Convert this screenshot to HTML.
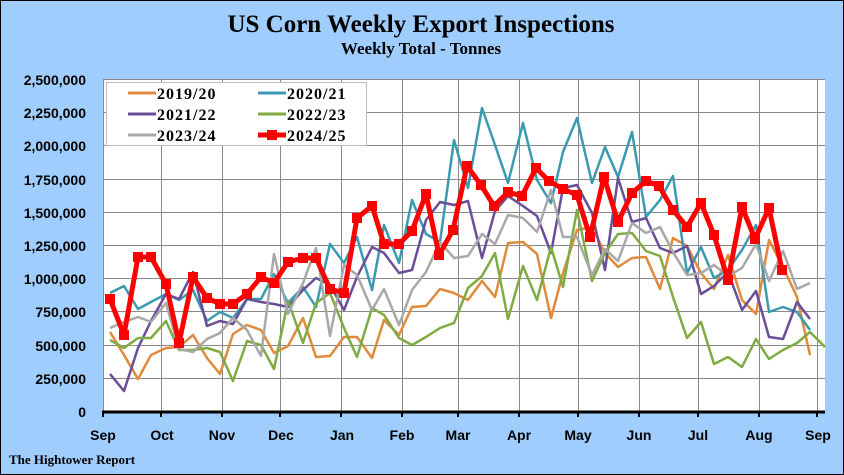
<!DOCTYPE html>
<html><head><meta charset="utf-8"><style>
html,body{margin:0;padding:0;background:#9fcdfd}
svg{display:block}
.yl{font:bold 14px "Liberation Sans",sans-serif;fill:#000;text-anchor:end}
.xl{font:bold 14px "Liberation Sans",sans-serif;fill:#000;text-anchor:middle}
.lg{font-family:"Liberation Serif",serif;font-weight:bold;font-size:16px;letter-spacing:1px;fill:#000}
</style></head><body>
<svg width="844" height="475" xmlns="http://www.w3.org/2000/svg">
<rect x="0.5" y="0.5" width="843" height="474" fill="#9fcdfd" stroke="#000" stroke-width="1"/>
<text x="421" y="32" text-anchor="middle" style="font:bold 25px 'Liberation Serif',serif">US Corn Weekly Export Inspections</text>
<text x="421" y="54" text-anchor="middle" style="font:bold 17px 'Liberation Serif',serif">Weekly Total - Tonnes</text>
<rect x="103" y="79" width="722" height="333" fill="#fff"/>
<g stroke="#8a8a8a" stroke-width="1">
<line x1="103" y1="79.5" x2="825" y2="79.5"/><line x1="103" y1="112.5" x2="825" y2="112.5"/><line x1="103" y1="145.5" x2="825" y2="145.5"/><line x1="103" y1="179.5" x2="825" y2="179.5"/><line x1="103" y1="212.5" x2="825" y2="212.5"/><line x1="103" y1="245.5" x2="825" y2="245.5"/><line x1="103" y1="278.5" x2="825" y2="278.5"/><line x1="103" y1="311.5" x2="825" y2="311.5"/><line x1="103" y1="345.5" x2="825" y2="345.5"/><line x1="103" y1="378.5" x2="825" y2="378.5"/>
<line x1="103.5" y1="79" x2="103.5" y2="412"/><line x1="161.5" y1="79" x2="161.5" y2="412"/><line x1="222.5" y1="79" x2="222.5" y2="412"/><line x1="280.5" y1="79" x2="280.5" y2="412"/><line x1="341.5" y1="79" x2="341.5" y2="412"/><line x1="402.5" y1="79" x2="402.5" y2="412"/><line x1="458.5" y1="79" x2="458.5" y2="412"/><line x1="519.5" y1="79" x2="519.5" y2="412"/><line x1="578.5" y1="79" x2="578.5" y2="412"/><line x1="639.5" y1="79" x2="639.5" y2="412"/><line x1="698.5" y1="79" x2="698.5" y2="412"/><line x1="759.5" y1="79" x2="759.5" y2="412"/><line x1="817.5" y1="79" x2="817.5" y2="412"/>
</g>
<g fill="none" stroke-width="2.5" stroke-linejoin="round">
<polyline stroke="#e08a3c" points="110,332 124,355 138,379 151,355 166,348 179,347 193,335 207,358 220,374 233,334 247,325 261,330 274,353 288,346 303,318 316,357 330,356 344,337 357,337 372,358 384,320 399,335 412,307 426,306 440,289 454,293 468,300 482,281 495,297 508,243 523,242 537,254 551,318 563,273 577,230 592,227 605,253 618,267 632,258 646,257 660,289 673,238 687,246 701,273 714,289 728,255 742,300 756,314 769,240 783,267 797,297 810,355"/>
<polyline stroke="#3a9bb0" points="110,293 124,286 138,309 151,302 166,294 179,300 193,290 207,321 220,312 233,318 247,299 261,299 274,274 288,303 303,287 316,307 330,244 344,263 357,237 372,290 384,225 399,263 412,200 426,234 440,242 454,140 468,188 482,108 495,145 508,183 523,123 537,180 551,203 563,152 577,118 592,183 605,147 618,177 632,132 646,217 660,200 673,176 687,273 701,247 714,278 728,270 742,250 756,225 769,312 783,307 797,312 810,330"/>
<polyline stroke="#6b4e98" points="110,374 124,391 138,348 151,321 166,294 179,299 193,272 207,326 220,321 233,324 247,299 261,302 274,304 288,307 303,290 316,278 330,285 344,310 357,277 372,247 384,253 399,273 412,270 426,220 440,202 454,205 468,201 482,258 495,211 508,196 523,206 537,216 551,253 563,188 577,185 592,213 605,270 618,178 632,222 646,218 660,248 673,253 687,246 701,294 714,286 728,272 742,310 756,291 769,337 783,339 797,302 810,319"/>
<polyline stroke="#7fab42" points="110,340 124,348 138,338 151,338 166,321 179,350 193,350 207,348 220,352 233,381 247,341 261,345 274,369 288,301 303,343 316,303 330,293 344,328 357,357 372,308 384,315 399,338 412,345 426,337 440,328 454,323 468,288 482,276 495,253 508,319 523,266 537,300 551,247 563,287 577,210 592,281 605,253 618,234 632,233 646,251 660,256 673,297 687,338 701,322 714,364 728,357 742,367 756,339 769,359 783,350 797,343 810,332 825,347"/>
<polyline stroke="#a8a8a8" points="110,328 124,322 138,317 151,322 166,303 179,349 193,352 207,339 220,333 233,318 247,330 261,356 274,254 288,314 303,283 316,248 330,336 344,265 357,275 372,310 384,289 399,325 412,290 426,272 440,242 454,258 468,256 482,234 495,244 508,215 523,218 537,232 551,190 563,237 577,237 592,275 605,249 618,261 632,223 646,233 660,227 673,252 687,275 701,273 714,265 728,276 742,268 756,244 769,281 783,251 797,289 810,283"/>
</g>
<g>
<polyline fill="none" stroke="#ff0000" stroke-width="5" stroke-linejoin="round" points="110,299 124,335 138,257 151,257 166,284 179,343 193,277 207,298 220,304 233,304 247,294 261,277 274,283 288,262 303,258 316,258 330,289 344,293 357,218 372,206 384,244 399,244 412,231 426,194 439,255 453,230 467,166 481,185 494,206 508,192 522,196 536,168 549,181 563,189 577,195 590,237 604,177 618,222 632,193 646,181 659,186 673,210 687,227 701,203 714,235 728,280 742,207 755,239 769,208 782,270"/>
<g fill="#ff0000">
<rect x="105" y="294" width="10" height="10"/><rect x="119" y="330" width="10" height="10"/><rect x="133" y="252" width="10" height="10"/><rect x="146" y="252" width="10" height="10"/><rect x="161" y="279" width="10" height="10"/><rect x="174" y="338" width="10" height="10"/><rect x="188" y="272" width="10" height="10"/><rect x="202" y="293" width="10" height="10"/><rect x="215" y="299" width="10" height="10"/><rect x="228" y="299" width="10" height="10"/><rect x="242" y="289" width="10" height="10"/><rect x="256" y="272" width="10" height="10"/><rect x="269" y="278" width="10" height="10"/><rect x="283" y="257" width="10" height="10"/><rect x="298" y="253" width="10" height="10"/><rect x="311" y="253" width="10" height="10"/><rect x="325" y="284" width="10" height="10"/><rect x="339" y="288" width="10" height="10"/><rect x="352" y="213" width="10" height="10"/><rect x="367" y="201" width="10" height="10"/><rect x="379" y="239" width="10" height="10"/><rect x="394" y="239" width="10" height="10"/><rect x="407" y="226" width="10" height="10"/><rect x="421" y="189" width="10" height="10"/><rect x="434" y="250" width="10" height="10"/><rect x="448" y="225" width="10" height="10"/><rect x="462" y="161" width="10" height="10"/><rect x="476" y="180" width="10" height="10"/><rect x="489" y="201" width="10" height="10"/><rect x="503" y="187" width="10" height="10"/><rect x="517" y="191" width="10" height="10"/><rect x="531" y="163" width="10" height="10"/><rect x="544" y="176" width="10" height="10"/><rect x="558" y="184" width="10" height="10"/><rect x="572" y="190" width="10" height="10"/><rect x="585" y="232" width="10" height="10"/><rect x="599" y="172" width="10" height="10"/><rect x="613" y="217" width="10" height="10"/><rect x="627" y="188" width="10" height="10"/><rect x="641" y="176" width="10" height="10"/><rect x="654" y="181" width="10" height="10"/><rect x="668" y="205" width="10" height="10"/><rect x="682" y="222" width="10" height="10"/><rect x="696" y="198" width="10" height="10"/><rect x="709" y="230" width="10" height="10"/><rect x="723" y="275" width="10" height="10"/><rect x="737" y="202" width="10" height="10"/><rect x="750" y="234" width="10" height="10"/><rect x="764" y="203" width="10" height="10"/><rect x="777" y="265" width="10" height="10"/>
</g></g>
<rect x="106.5" y="82.5" width="260" height="63" fill="#fff" stroke="#bbb"/>
<g stroke-width="3">
<line x1="128" y1="93" x2="156" y2="93" stroke="#e08a3c"/><line x1="258" y1="93" x2="286" y2="93" stroke="#3a9bb0"/>
<line x1="128" y1="114" x2="156" y2="114" stroke="#6b4e98"/><line x1="258" y1="114" x2="286" y2="114" stroke="#7fab42"/>
<line x1="128" y1="135" x2="156" y2="135" stroke="#a8a8a8"/><line x1="258" y1="135" x2="286" y2="135" stroke="#ff0000" stroke-width="5"/>
</g>
<rect x="267" y="130" width="10" height="10" fill="#ff0000"/>
<text class="lg" x="157" y="99">2019/20</text><text class="lg" x="287" y="99">2020/21</text>
<text class="lg" x="157" y="120">2021/22</text><text class="lg" x="287" y="120">2022/23</text>
<text class="lg" x="157" y="141">2023/24</text><text class="lg" x="287" y="141">2024/25</text>
<line x1="102" y1="412" x2="825" y2="412" stroke="#000" stroke-width="3"/>
<g stroke="#000" stroke-width="2">
<line x1="103" y1="412" x2="103" y2="417"/><line x1="161" y1="412" x2="161" y2="417"/><line x1="222" y1="412" x2="222" y2="417"/><line x1="280" y1="412" x2="280" y2="417"/><line x1="341" y1="412" x2="341" y2="417"/><line x1="402" y1="412" x2="402" y2="417"/><line x1="458" y1="412" x2="458" y2="417"/><line x1="519" y1="412" x2="519" y2="417"/><line x1="578" y1="412" x2="578" y2="417"/><line x1="639" y1="412" x2="639" y2="417"/><line x1="698" y1="412" x2="698" y2="417"/><line x1="759" y1="412" x2="759" y2="417"/><line x1="817" y1="412" x2="817" y2="417"/>
</g>
<text class="yl" x="86" y="85">2,500,000</text><text class="yl" x="86" y="118">2,250,000</text><text class="yl" x="86" y="151">2,000,000</text><text class="yl" x="86" y="185">1,750,000</text><text class="yl" x="86" y="218">1,500,000</text><text class="yl" x="86" y="251">1,250,000</text><text class="yl" x="86" y="284">1,000,000</text><text class="yl" x="86" y="317">750,000</text><text class="yl" x="86" y="351">500,000</text><text class="yl" x="86" y="384">250,000</text><text class="yl" x="86" y="417">0</text>
<text class="xl" x="103" y="440">Sep</text><text class="xl" x="162" y="440">Oct</text><text class="xl" x="222" y="440">Nov</text><text class="xl" x="281" y="440">Dec</text><text class="xl" x="342" y="440">Jan</text><text class="xl" x="402" y="440">Feb</text><text class="xl" x="458" y="440">Mar</text><text class="xl" x="519" y="440">Apr</text><text class="xl" x="578" y="440">May</text><text class="xl" x="639" y="440">Jun</text><text class="xl" x="698" y="440">Jul</text><text class="xl" x="759" y="440">Aug</text><text class="xl" x="818" y="440">Sep</text>
<text x="9" y="464" style="font-family:'Liberation Serif',serif;font-weight:bold;font-size:13px">The Hightower Report</text>
</svg>
</body></html>
